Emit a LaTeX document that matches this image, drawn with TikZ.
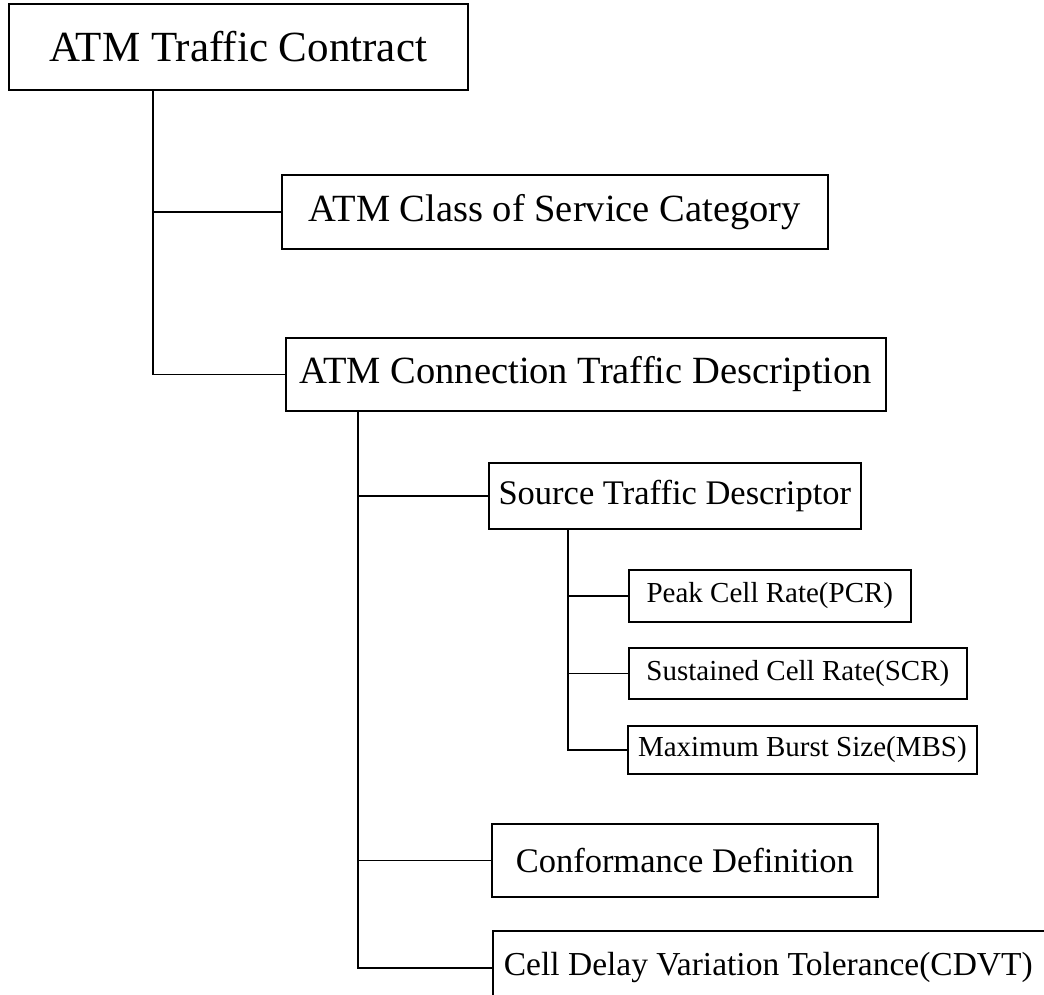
\documentclass[tikz,border=0pt]{standalone}
\usepackage{fontspec}
\setmainfont{Liberation Serif}
\usetikzlibrary{calc}

\begin{document}
\begin{tikzpicture}[x=1pt,y=-1pt,line width=1.7pt,
	box/.style={draw,rectangle,anchor=north west,inner sep=0pt},
	big/.style={font=\fontsize{43}{43}\selectfont},
	mid/.style={font=\fontsize{38.5}{38.5}\selectfont},
	sub/.style={font=\fontsize{34.5}{34.5}\selectfont},
	small/.style={font=\fontsize{29}{29}\selectfont}]
	\useasboundingbox (0,0) rectangle (1044,995);
	\clip (0,0) rectangle (1044,995);

	\node[box,big,minimum width=459pt,minimum height=86pt] (contract) at (8,3) {ATM Traffic Contract};
	\node[box,mid,minimum width=546pt,minimum height=74pt] (cls) at (281,174) {ATM Class of Service Category};
	\node[box,mid,minimum width=600pt,minimum height=73pt] (conn) at (285,337) {ATM Connection Traffic Description};

	\node[box,sub,minimum width=372pt,minimum height=66pt] (src) at (488,462) {Source Traffic Descriptor};
	\node[box,small,minimum width=282pt,minimum height=52pt] (peak) at (628,569) {Peak Cell Rate(PCR)};
	\node[box,small,minimum width=338pt,minimum height=51pt] (scr) at (628,647) {Sustained Cell Rate(SCR)};
	\node[box,small,minimum width=349pt,minimum height=48pt] (mbs) at (627,725) {Maximum Burst Size(MBS)};
	\node[box,sub,minimum width=386pt,minimum height=73pt] (conf) at (491,823) {Conformance Definition};
	\node[box,font=\fontsize{33.5}{33.5}\selectfont,inner xsep=11pt,minimum height=74pt] (cdvt) at (492,930) {\makebox[580pt][l]{Cell Delay Variation Tolerance(CDVT)}};

	% spines
	\coordinate (spineA) at (153,0);
	\coordinate (spineB) at (358,0);
	\coordinate (spineC) at (568,0);

	\draw (spineA |- contract.south) |- (conn.west);
	\draw (spineA |- cls.west) -- (cls.west);

	\draw (spineB |- conn.south) |- (cdvt.west);
	\draw (spineB |- src.west) -- (src.west);
	\draw (spineB |- conf.west) -- (conf.west);

	\draw (spineC |- src.south) |- (mbs.west);
	\draw (spineC |- peak.west) -- (peak.west);
	\draw (spineC |- scr.west) -- (scr.west);
\end{tikzpicture}
\end{document}
